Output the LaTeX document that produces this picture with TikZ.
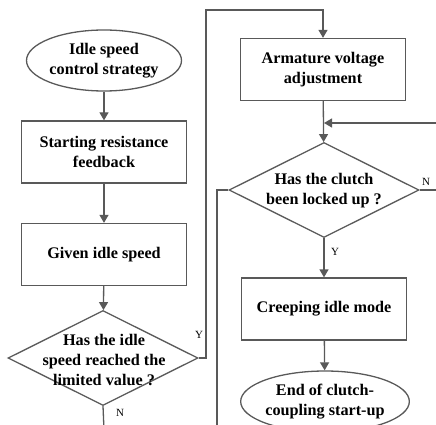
\documentclass[tikz,border=0pt]{standalone}
\usepackage{fontspec}
\setmainfont{Liberation Serif}
\usetikzlibrary{shapes.geometric,arrows.meta}
\definecolor{ln}{HTML}{595959}
\tikzset{
  every picture/.style={x=1pt,y=-1pt},
  txt/.style={font=\fontsize{16.2}{19.8}\selectfont\bfseries,align=center,text=black},
  boxnode/.style={draw=ln,line width=1.3pt,minimum width=165pt,minimum height=62pt,inner sep=0pt,txt},
  ellnode/.style={ellipse,draw=ln,line width=1.3pt,minimum width=155pt,minimum height=61pt,inner sep=0pt,txt},
  dianode/.style={diamond,draw=ln,line width=1.3pt,minimum width=190pt,minimum height=95pt,inner sep=0pt},
  conn/.style={draw=ln,line width=1.3pt},
  arr/.style={conn,-{Triangle[length=8pt,width=9pt]}},
  yn/.style={font=\fontsize{11}{13}\selectfont,text=black,inner sep=1pt}
}
\begin{document}
\begin{tikzpicture}
\useasboundingbox (0,0) rectangle (436,425);
\clip (0,0) rectangle (436,425);
% left column
\node[ellnode] (e1) at (104,60.5) {Idle speed\\control strategy};
\node[boxnode] (b1) at (104,152) {Starting resistance\\feedback};
\node[boxnode] (b2) at (104,254.5) {Given idle speed};
\node[dianode] (d1) at (103,358) {};
\node[txt] (d1t) at (104,360) {Has the idle\\speed reached the\\limited value ?};
% right column
\node[boxnode] (b3) at (323,69.5) {Armature voltage\\adjustment};
\node[dianode] (d2) at (324,190) {};
\node[txt] (d2t) at (324,191) {Has the clutch\\been locked up ?};
\node[boxnode] (b4) at (324,309) {Creeping idle mode};
\node[ellnode] (e2) at (325,401.5) {End of clutch-\\coupling start-up};
% coordinates
\coordinate (c1) at (206,10);
\coordinate (c2) at (104,430);
\coordinate (c3) at (440,123);
\coordinate (c4) at (440,190);
\coordinate (c5) at (217,430);
% connectors
\draw[arr] (e1) -- (b1);
\draw[arr] (b1) -- (b2);
\draw[arr] (b2) -- (d1);
\draw[arr] (d1.east) -| (c1) -| (b3.north);
\draw[conn] (d1.south) -- (c2);
\draw[arr] (b3) -- (d2);
\draw[arr] (c3) -- (c3 -| d2.north);
\draw[conn] (d2.east) -- (c4);
\draw[conn] (d2.west) -| (c5);
\draw[arr] (d2) -- (b4);
\draw[arr] (b4) -- (e2);
% labels
\node[yn] (ly1) at (199,335) {Y};
\node[yn] (ln1) at (120,413) {N};
\node[yn] (ln2) at (426,182) {N};
\node[yn] (ly2) at (335,252) {Y};
\end{tikzpicture}
\end{document}
